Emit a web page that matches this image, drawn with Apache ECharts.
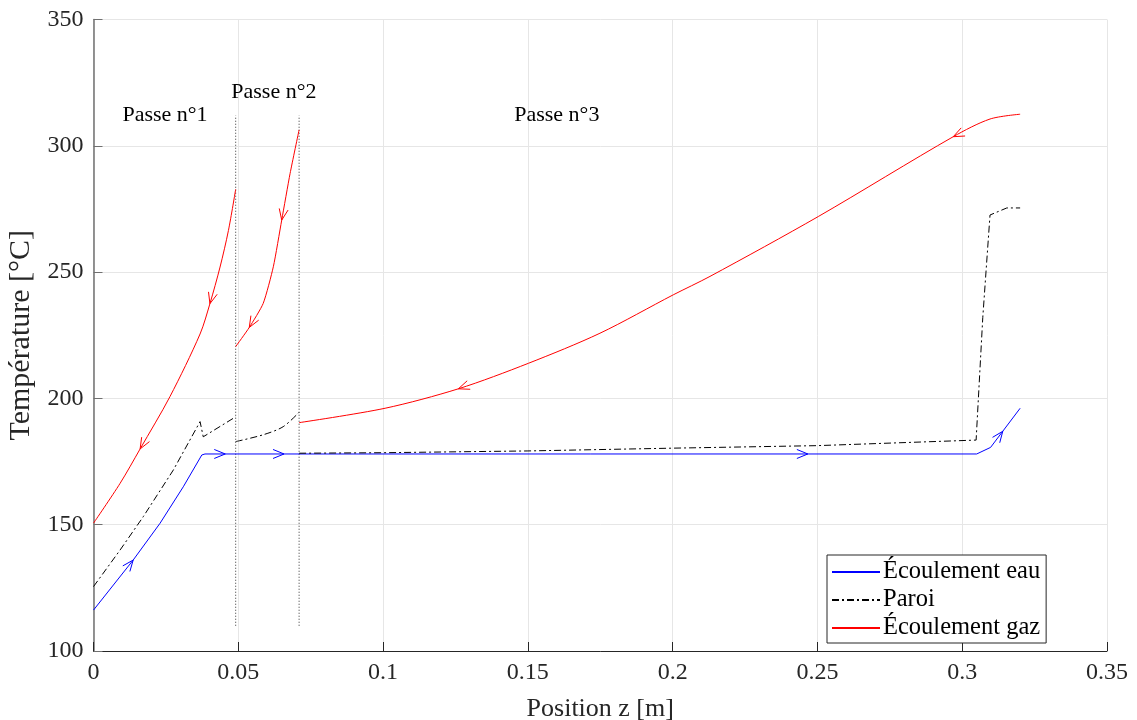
<!DOCTYPE html>
<html><head><meta charset="utf-8">
<script src="https://cdn.jsdelivr.net/npm/echarts@6.0.0/dist/echarts.min.js"></script>
<style>html,body{margin:0;padding:0;background:#fff}#c{width:1137px;height:720px}</style>
</head><body><div id="c"></div>
<script>
// ---- data ----
const waterX = [0, 0.0137, 0.023, 0.031, 0.0374, 0.0385, 0.305, 0.3098, 0.32];
const waterT = [116.2, 136, 150.6, 165, 177.6, 178, 178, 180.6, 196.1];

const wall1X = [0, 0.0092, 0.0172, 0.0276, 0.0368, 0.0379, 0.0491];
const wall1T = [125.5, 140, 153.2, 171.7, 190.8, 184.8, 192.7];
const wall2X = [0.0491, 0.0586, 0.0655, 0.071];
const wall2T = [182.9, 185.6, 188.8, 194.5];
const wall3X = [0.071, 0.1, 0.15, 0.2, 0.25, 0.3048, 0.3071, 0.3096, 0.3154, 0.32];
const wall3T = [178.3, 178.5, 179.2, 180.3, 181.3, 183.5, 232, 272.6, 275.4, 275.4];

const gas1X = [0, 0.0092, 0.0161, 0.0264, 0.0368, 0.0402, 0.0437, 0.0466, 0.0491];
const gas1T = [150.6, 166.4, 180.0, 200.7, 225.5, 237.5, 252.0, 266.5, 282.8];
const gas2X = [0.0491, 0.0538, 0.0586, 0.0621, 0.065, 0.0679, 0.071];
const gas2T = [220.5, 228.1, 237.6, 252.1, 270.6, 289.1, 306.3];
const gas3X = [0.071, 0.1007, 0.126, 0.1502, 0.1749, 0.2002, 0.2129, 0.2503, 0.2969, 0.3096, 0.32];
const gas3T = [190.4, 196.1, 203.8, 213.9, 225.8, 241.0, 248.3, 272.0, 303.6, 310.6, 312.5];

const passX = [0.0491, 0.071];
const passTRange = [110, 312];

const passLabels = ['Passe n°1', 'Passe n°2', 'Passe n°3'];
const passLabelX = [0.0247, 0.0623, 0.16];
const passLabelT = [312.2, 321.3, 312.2];

const gasArrowX = [0.0161, 0.0402, 0.0538, 0.065, 0.126, 0.2969];
const gasArrowPass = [1, 1, 2, 2, 3, 3];
const waterArrowX = [0.0137, 0.0455, 0.0658, 0.2467, 0.314];

const names = ['Écoulement eau', 'Paroi', 'Écoulement gaz'];
const xTicks = {min: 0, max: 0.35, step: 0.05};
const yTicks = {min: 100, max: 350, step: 50};

// ---- helpers ----
const zip = (xs, ts) => xs.map((x, i) => [x, ts[i]]);
function interp(xs, ts, x) {
  for (let i = 0; i < xs.length - 1; i++) {
    if (x >= xs[i] && x <= xs[i + 1]) {
      const f = (x - xs[i]) / (xs[i + 1] - xs[i] || 1);
      return ts[i] + f * (ts[i + 1] - ts[i]);
    }
  }
  return x < xs[0] ? ts[0] : ts[ts.length - 1];
}
const gasPasses = {1: [gas1X, gas1T], 2: [gas2X, gas2T], 3: [gas3X, gas3T]};
const dxBack = 0.0015;
const gasArrows = gasArrowX.map((x, i) => {
  const [xs, ts] = gasPasses[gasArrowPass[i]];
  const xb = Math.min(x + dxBack, xs[xs.length - 1]);
  return [x, interp(xs, ts, x), xb, interp(xs, ts, xb)];
});
const waterArrows = waterArrowX.map(x => {
  const xb = Math.max(x - dxBack, 0);
  return [x, interp(waterX, waterT, x), xb, interp(waterX, waterT, xb)];
});

const FONT = "'Liberation Serif', 'DejaVu Serif', serif";
const RED = '#ff0000', BLUE = '#0000ff', BLACK = '#000000';

function arrowItem(color) {
  return function (params, api) {
    const tip = api.coord([api.value(0), api.value(1)]);
    const back = api.coord([api.value(2), api.value(3)]);
    let dx = tip[0] - back[0], dy = tip[1] - back[1];
    const len = Math.hypot(dx, dy) || 1;
    dx /= len; dy /= len;
    const L = 11, W = 4.5;
    const bx = tip[0] - L * dx, by = tip[1] - L * dy;
    const px = -dy, py = dx;
    return {
      type: 'polyline',
      shape: {points: [[bx + W * px, by + W * py], tip, [bx - W * px, by - W * py]]},
      style: {stroke: color, fill: null, lineWidth: 1}
    };
  };
}

function lineSeries(name, data, color, type, smooth) {
  return {
    name, type: 'line', data, symbol: 'none', showSymbol: false,
    smooth: smooth || false,
    lineStyle: {color, width: 1, type: type || 'solid'},
    itemStyle: {color},
    z: 3, silent: true
  };
}
const DASHDOT = [7, 3, 2, 3];

const chart = echarts.init(document.getElementById('c'), null, {renderer: 'canvas'});
chart.setOption({
  animation: false,
  backgroundColor: '#fff',
  grid: {left: 93.5, right: 30, top: 19.5, bottom: 69, containLabel: false, outerBoundsMode: 'none'},
  xAxis: {
    type: 'value', min: xTicks.min, max: xTicks.max, interval: xTicks.step,
    name: 'Position z [m]', nameLocation: 'middle', nameGap: 45,
    nameTextStyle: {fontFamily: FONT, fontSize: 26, color: '#262626'},
    axisLine: {show: true, onZero: false, lineStyle: {color: '#262626', width: 1}},
    axisTick: {show: true, inside: true, length: 9, lineStyle: {color: '#262626'}},
    axisLabel: {fontFamily: FONT, fontSize: 24, color: '#262626', margin: 10},
    splitLine: {show: true, lineStyle: {color: '#e6e6e6', width: 1}}
  },
  yAxis: {
    type: 'value', min: yTicks.min, max: yTicks.max, interval: yTicks.step,
    name: 'Température [°C]', nameLocation: 'middle', nameGap: 36, nameRotate: 90,
    nameTextStyle: {fontFamily: FONT, fontSize: 30, color: '#262626'},
    axisLine: {show: true, onZero: false, lineStyle: {color: '#707070', width: 1.5}},
    axisTick: {show: true, inside: true, length: 9, lineStyle: {color: '#707070'}},
    axisLabel: {fontFamily: FONT, fontSize: 24, color: '#262626', margin: 10},
    splitLine: {show: true, lineStyle: {color: '#e6e6e6', width: 1}}
  },
  legend: {
    data: names, orient: 'vertical', left: 827, top: 555,
    backgroundColor: '#fff', borderColor: '#262626', borderWidth: 1,
    padding: [4, 6, 2, 4], itemWidth: 48, itemHeight: 14, itemGap: 2,
    selectedMode: false,
    itemStyle: {color: 'transparent', borderWidth: 0, opacity: 0},
    textStyle: {fontFamily: FONT, fontSize: 24.5, color: '#000', lineHeight: 26, padding: [0, 0, 0, -2]}
  },
  series: [
    lineSeries(names[0], zip(waterX, waterT), BLUE, 'solid', false),
    lineSeries(names[1], zip(wall1X, wall1T), BLACK, DASHDOT, false),
    lineSeries(names[1], zip(wall2X, wall2T), BLACK, DASHDOT, 0.3),
    lineSeries(names[1], zip(wall3X, wall3T), BLACK, DASHDOT, false),
    lineSeries(names[2], zip(gas1X, gas1T), RED, 'solid', 0.3),
    lineSeries(names[2], zip(gas2X, gas2T), RED, 'solid', 0.2),
    lineSeries(names[2], zip(gas3X, gas3T), RED, 'solid', 0.3),
    ...passX.map(x => ({
      type: 'line', data: [[x, passTRange[0]], [x, passTRange[1]]], symbol: 'none',
      lineStyle: {color: '#333', width: 1, type: [1, 2]}, z: 2, silent: true
    })),
    {
      type: 'custom', coordinateSystem: 'cartesian2d', data: gasArrows,
      encode: {x: 0, y: 1}, renderItem: arrowItem(RED), z: 4, silent: true
    },
    {
      type: 'custom', coordinateSystem: 'cartesian2d', data: waterArrows,
      encode: {x: 0, y: 1}, renderItem: arrowItem(BLUE), z: 4, silent: true
    },
    {
      type: 'custom', coordinateSystem: 'cartesian2d',
      data: passLabels.map((t, i) => [passLabelX[i], passLabelT[i], i]),
      encode: {x: 0, y: 1}, z: 5, silent: true,
      renderItem: function (params, api) {
        const p = api.coord([api.value(0), api.value(1)]);
        return {
          type: 'text', x: p[0], y: p[1],
          style: {text: passLabels[api.value(2)], fontFamily: FONT, fontSize: 22,
                  fill: '#000', align: 'center', verticalAlign: 'middle'}
        };
      }
    }
  ]
});
</script></body></html>
